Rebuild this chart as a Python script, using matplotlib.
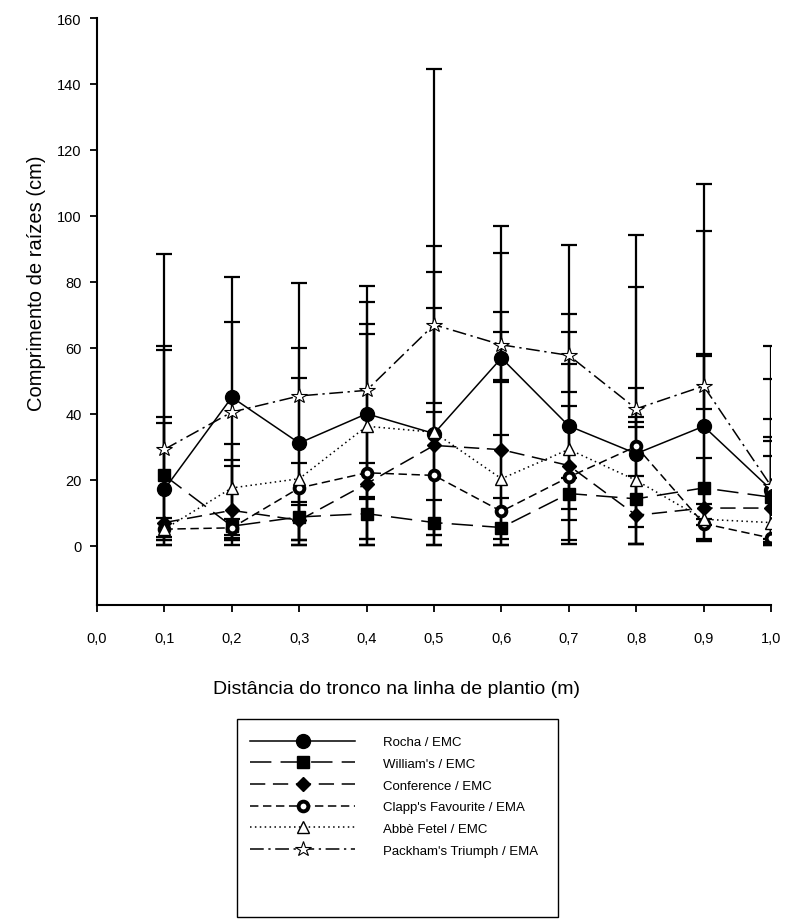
import numpy as np
import matplotlib
matplotlib.use("Agg")
import matplotlib.pyplot as plt
from matplotlib.patches import Rectangle

# fonte parecida com Arial
plt.rcParams["font.family"] = ["Liberation Sans", "DejaVu Sans"]

# distancias (m)
distancia = [0.1, 0.2, 0.3, 0.4, 0.5, 0.6, 0.7, 0.8, 0.9, 1.0]

# medias (cm)
rocha = [17.1, 45.0, 31.1, 40.0, 34.0, 56.9, 36.3, 27.9, 36.2, 17.0]
williams = [21.3, 5.9, 8.7, 9.7, 7.0, 5.5, 15.8, 14.2, 17.5, 14.7]
conference = [7.0, 10.7, 7.7, 18.8, 30.4, 29.1, 24.3, 9.2, 11.4, 11.4]
clapps = [5.0, 5.4, 17.5, 22.1, 21.3, 10.4, 20.8, 30.1, 6.7, 2.3]
abbe = [5.0, 17.5, 20.3, 36.2, 34.4, 20.3, 29.2, 19.8, 8.0, 7.0]
packham = [29.2, 40.5, 45.4, 47.1, 67.0, 60.9, 57.7, 41.5, 48.4, 18.1]

# extremos das barras de erro (topo e base)
rocha_hi = [60.4, 81.6, 59.9, 73.9, 144.5, 64.7, 64.9, 94.2, 109.6, 60.4]
rocha_lo = [1.8, 0.3, 1.8, 2.1, 0.3, 49.6, 7.7, 0.4, 1.3, 0.3]
williams_hi = [59.2, 24.3, 13.2, 14.0, 13.7, 14.4, 20.4, 21.1, 26.6, 38.3]
williams_lo = [0.1, 0.3, 1.8, 0.3, 0.3, 0.3, 11.2, 5.8, 8.2, 1.0]
conference_hi = [39.0, 26.1, 12.2, 25.0, 72.0, 96.9, 55.0, 37.5, 57.5, 32.9]
conference_lo = [2.6, 2.3, 0.1, 2.1, 3.3, 0.3, 1.6, 0.4, 1.9, 2.0]
clapps_hi = [8.4, 8.0, 25.2, 64.3, 83.0, 33.6, 42.2, 78.3, 12.7, 27.1]
clapps_lo = [1.8, 1.6, 1.8, 0.3, 0.3, 2.1, 0.4, 0.4, 6.2, 0.3]
abbe_hi = [37.3, 30.9, 50.9, 67.3, 40.5, 88.8, 91.3, 39.0, 95.4, 31.6]
abbe_lo = [0.1, 3.1, 0.1, 0.3, 3.3, 0.3, 0.4, 0.6, 1.3, 0.5]
packham_hi = [88.3, 67.8, 79.8, 78.6, 90.9, 71.0, 70.3, 47.9, 58.2, 50.6]
packham_lo = [0.1, 1.6, 0.1, 14.7, 43.3, 50.1, 46.6, 36.0, 41.5, 0.3]

nomes = ["Rocha / EMC", "William's / EMC", "Conference / EMC",
         "Clapp's Favourite / EMA", "Abbè Fetel / EMC", "Packham's Triumph / EMA"]

series = [
    (rocha, rocha_hi, rocha_lo),
    (williams, williams_hi, williams_lo),
    (conference, conference_hi, conference_lo),
    (clapps, clapps_hi, clapps_lo),
    (abbe, abbe_hi, abbe_lo),
    (packham, packham_hi, packham_lo),
]

# estilo de cada serie: (tracejado, marcador, tamanho, cor interna, borda)
estilos = [
    ((None, None), "o", 10, "black", 1.0),
    ((14, 6), "s", 8.5, "black", 1.0),
    ((10, 5), "D", 7.5, "black", 1.0),
    ((5.5, 3), "o", 7, "white", 2.8),
    ((1, 2.2), "^", 9, "white", 1.0),
    ((9, 3, 1.5, 3), "*", 11.5, "white", 0.8),
]

fig = plt.figure(figsize=(7.87, 9.2), dpi=100)
ax = fig.add_axes([0.1233, 0.3413, 0.8564, 0.638])

# barras de erro primeiro
for (media, hi, lo) in series:
    media = np.array(media)
    err = [media - np.array(lo), np.array(hi) - media]
    ax.errorbar(distancia, media, yerr=err, fmt="none", ecolor="black",
                elinewidth=1.6, capsize=5.5, capthick=1.6, zorder=2)

# linhas e marcadores
for i, (media, hi, lo) in enumerate(series):
    dash, mk, ms, face, mew = estilos[i]
    ln, = ax.plot(distancia, media, color="black", lw=1.1, marker=mk,
                  markersize=ms, markerfacecolor=face, markeredgecolor="black",
                  markeredgewidth=mew, label=nomes[i], zorder=3 + i * 0.1)
    if dash[0] is not None:
        ln.set_dashes(dash)

ax.set_xlim(0, 1.0)
ax.set_ylim(-18, 160)
ax.set_xticks([0.0, 0.1, 0.2, 0.3, 0.4, 0.5, 0.6, 0.7, 0.8, 0.9, 1.0])
ax.set_xticklabels(["0,0", "0,1", "0,2", "0,3", "0,4", "0,5", "0,6", "0,7",
                    "0,8", "0,9", "1,0"])
ax.set_yticks([0, 20, 40, 60, 80, 100, 120, 140, 160])

ax.spines["top"].set_visible(False)
ax.spines["right"].set_visible(False)
ax.spines["left"].set_linewidth(1.5)
ax.spines["bottom"].set_linewidth(1.5)
ax.tick_params(axis="both", direction="out", length=5, width=1.3,
               labelsize=10.5, colors="black")
ax.tick_params(axis="x", pad=14)
ax.tick_params(axis="y", pad=6)

ax.set_xlabel("Distância do tronco na linha de plantio (m)", fontsize=14)
ax.xaxis.set_label_coords(0.445, -0.128)
ax.set_ylabel("Comprimento de raízes (cm)", fontsize=14.5)
ax.yaxis.set_label_coords(-0.075, 0.55)

# legenda com moldura propria
leg = ax.legend(loc="upper left", bbox_to_anchor=(0.3177, 0.199),
                bbox_transform=fig.transFigure, frameon=False, fontsize=9.5,
                handlelength=7.96, handletextpad=2.1, labelspacing=0.72,
                borderaxespad=0, borderpad=0)
fig.patches.append(Rectangle((237 / 787, 0.002), (558 - 237) / 787,
                             (919 - 721) / 920, transform=fig.transFigure,
                             fill=False, edgecolor="black", lw=1.0))

fig.savefig("out.png", dpi=100)
